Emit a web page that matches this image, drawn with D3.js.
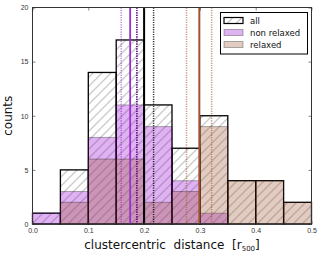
<!DOCTYPE html>
<html>
<head>
<meta charset="UTF-8">
<script src="https://d3js.org/d3.v7.min.js"></script>
<style>
  body { margin: 0; background: #fff; }
  svg { display: block; font-family: "DejaVu Sans", sans-serif; }
  .tick text { font-size: 7px; fill: #333; }
</style>
</head>
<body>
<div id="chart"></div>
<script>
// histogram data (bin width 0.05)
var binEdges = [0, 0.05, 0.1, 0.15, 0.2, 0.25, 0.3, 0.35, 0.4, 0.45, 0.5];
var allCounts = [1, 5, 14, 17, 11, 7, 10, 4, 4, 2];
var nonRelaxedCounts = [1, 3, 8, 11, 9, 4, 1, 0, 0, 0];
var relaxedCounts = [0, 2, 6, 6, 2, 3, 9, 4, 4, 2];

// medians and error bounds
var allMedian = 0.2, allBounds = [0.187, 0.217];
var nonMedian = 0.175, nonBounds = [0.159, 0.187];
var relMedian = 0.299, relBounds = [0.276, 0.321];

var xTicks = [0, 0.1, 0.2, 0.3, 0.4, 0.5];
var yTicks = [0, 5, 10, 15, 20];

var W = 322, H = 256;
var margin = {top: 7.5, right: 10.5, bottom: 32, left: 32.5};
var width = W - margin.left - margin.right,
    height = H - margin.top - margin.bottom;

var svg = d3.select("#chart").append("svg")
    .attr("width", W).attr("height", H);

var defs = svg.append("defs");
var pat = defs.append("pattern")
    .attr("id", "hatch")
    .attr("patternUnits", "userSpaceOnUse")
    .attr("width", 9).attr("height", 9);
pat.append("path")
    .attr("d", "M-1,1 l2,-2 M0,9 l9,-9 M8,10 l2,-2")
    .attr("stroke", "#333").attr("stroke-width", 0.5);

var g = svg.append("g")
    .attr("transform", "translate(" + margin.left + "," + margin.top + ")");

var x = d3.scaleLinear().domain([0, 0.5]).range([0, width]);
var y = d3.scaleLinear().domain([0, 20]).range([height, 0]);

function bins(counts) {
    return counts.map(function(c, i) { return {x0: binEdges[i], x1: binEdges[i + 1], n: c}; });
}

// "all" hatched bars
g.selectAll("rect.all").data(bins(allCounts).filter(function(d) { return d.n > 0; }))
  .enter().append("rect")
    .attr("class", "all")
    .attr("x", function(d) { return x(d.x0); })
    .attr("width", function(d) { return x(d.x1) - x(d.x0); })
    .attr("y", function(d) { return y(d.n); })
    .attr("height", function(d) { return y(0) - y(d.n); })
    .attr("fill", "url(#hatch)")
    .attr("stroke", "#000").attr("stroke-width", 1.3);

function drawFilled(counts, color) {
    g.append("g").selectAll("rect").data(bins(counts).filter(function(d) { return d.n > 0; }))
      .enter().append("rect")
        .attr("x", function(d) { return x(d.x0); })
        .attr("width", function(d) { return x(d.x1) - x(d.x0); })
        .attr("y", function(d) { return y(d.n); })
        .attr("height", function(d) { return y(0) - y(d.n); })
        .attr("fill", color).attr("fill-opacity", 0.3)
        .attr("stroke", "#000").attr("stroke-opacity", 0.3).attr("stroke-width", 1);
}
drawFilled(nonRelaxedCounts, "#9400d3");
drawFilled(relaxedCounts, "#a0522d");

// vertical lines
function vline(v, color, dotted, w, op) {
    g.append("line")
        .attr("x1", x(v)).attr("x2", x(v))
        .attr("y1", 0).attr("y2", height)
        .attr("stroke", color)
        .attr("stroke-width", w)
        .attr("stroke-opacity", op)
        .attr("stroke-dasharray", dotted ? "1.2,1.2" : null);
}
allBounds.forEach(function(v) { vline(v, "#000", true, 1.5, 0.8); });
nonBounds.forEach(function(v, i) { vline(v, "#9400d3", true, 1.5, i === 0 ? 0.5 : 0.7); });
relBounds.forEach(function(v) { vline(v, "#a0522d", true, 1.5, 0.6); });
vline(nonMedian, "#9932cc", false, 1.8, 1);
vline(allMedian, "#000", false, 2, 1);
vline(relMedian, "#a0522d", false, 2, 1);

// axes
g.append("g").attr("transform", "translate(0," + height + ")")
    .call(d3.axisBottom(x).tickValues(xTicks).tickFormat(d3.format(".1f")).tickSizeInner(-3).tickSizeOuter(0).tickPadding(4));
g.append("g")
    .call(d3.axisLeft(y).tickValues(yTicks).tickSizeInner(-3).tickSizeOuter(0).tickPadding(4));
g.append("g").attr("transform", "translate(" + width + ",0)")
    .call(d3.axisRight(y).tickValues(yTicks).tickSizeInner(-3).tickSizeOuter(0).tickFormat(""));
g.append("g")
    .call(d3.axisTop(x).tickValues(xTicks).tickSizeInner(-3).tickSizeOuter(0).tickFormat(""));
g.selectAll(".domain").remove();
g.selectAll(".tick line").attr("stroke", "#333").attr("stroke-width", 0.6);

g.append("rect")
    .attr("width", width).attr("height", height)
    .attr("fill", "none").attr("stroke", "#333").attr("stroke-width", 1);

// axis labels
var xl = svg.append("text")
    .attr("x", margin.left + width / 2).attr("y", 248.5)
    .attr("text-anchor", "middle")
    .style("font-size", "12px").attr("fill", "#111")
    .attr("xml:space", "preserve");
xl.append("tspan").text("clustercentric  distance  [r");
xl.append("tspan").attr("dy", 2).style("font-size", "7px").text("500");
xl.append("tspan").attr("dy", -2).text("]");

svg.append("text")
    .attr("transform", "translate(12," + (margin.top + height / 2) + ") rotate(-90)")
    .attr("text-anchor", "middle")
    .style("font-size", "12px").attr("fill", "#111")
    .text("counts");

// legend
var legendItems = [
    {label: "all", fill: "url(#hatch)", stroke: "#000", op: 1},
    {label: "non relaxed", fill: "#9400d3", stroke: "#000", op: 0.3},
    {label: "relaxed", fill: "#a0522d", stroke: "#000", op: 0.3}
];
var lg = svg.append("g").attr("transform", "translate(220.5,12.5)");
lg.append("rect").attr("width", 87).attr("height", 41.5)
    .attr("fill", "#fff").attr("stroke", "#000").attr("stroke-width", 1);
legendItems.forEach(function(d, i) {
    var row = lg.append("g").attr("transform", "translate(3.5," + (5 + i * 12) + ")");
    row.append("rect").attr("width", 19).attr("height", 6)
        .attr("fill", d.fill).attr("fill-opacity", d.op)
        .attr("stroke", d.stroke).attr("stroke-opacity", d.op === 1 ? 1 : 0.3)
        .attr("stroke-width", d.op === 1 ? 1.2 : 1);
    row.append("text").attr("x", 26).attr("y", 6)
        .style("font-size", "8.5px").attr("fill", "#111")
        .text(d.label);
});
</script>
</body>
</html>
